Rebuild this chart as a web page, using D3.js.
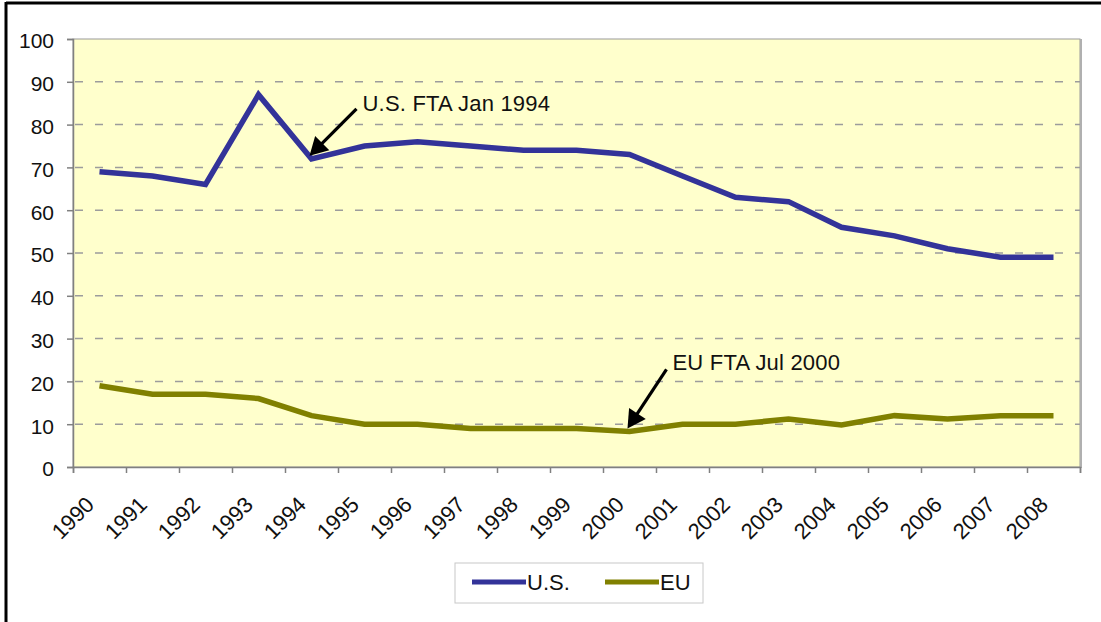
<!DOCTYPE html>
<html>
<head>
<meta charset="utf-8">
<script src="https://cdn.jsdelivr.net/npm/d3@7/dist/d3.min.js"></script>
<style>
  html, body { margin: 0; padding: 0; background: #fff; }
  svg { display: block; font-family: "Liberation Sans", Arial, sans-serif; }
</style>
</head>
<body>
<svg id="chart" width="1101" height="622"></svg>
<script>
const years = ["1990","1991","1992","1993","1994","1995","1996","1997","1998","1999",
               "2000","2001","2002","2003","2004","2005","2006","2007","2008"];
const usValues = [69,68,66,87,72,75,76,75,74,74,73,68,63,62,56,54,51,49,49];
const euValues = [19,17,17,16,12,10,10,9,9,9,8.3,10,10,11.2,9.8,12,11.2,12,12];
const yTicks = [0,10,20,30,40,50,60,70,80,90,100];
const seriesNames = ["U.S.", "EU"];
const annotations = [
  { text: "U.S. FTA Jan 1994", series: 0, year: "1994" },
  { text: "EU FTA Jul 2000", series: 1, year: "2000" }
];

const svg = d3.select("#chart");
const pLeft = 73, pRight = 1080, pTop = 39, pBottom = 467;
const colors = ["#333399", "#808000"];

// outer frame (partially visible)
svg.append("line").attr("x1", 6).attr("y1", 3).attr("x2", 1101).attr("y2", 3)
  .attr("stroke", "#000").attr("stroke-width", 3);
svg.append("line").attr("x1", 6).attr("y1", 2).attr("x2", 6).attr("y2", 622)
  .attr("stroke", "#000").attr("stroke-width", 3);

const x = d3.scaleBand().domain(years).range([pLeft, pRight]).padding(0);
const y = d3.scaleLinear().domain([0, 100]).range([pBottom, pTop]);
const cx = d => x(d) + x.bandwidth() / 2;

// plot background
svg.append("rect").attr("x", pLeft).attr("y", pTop)
  .attr("width", pRight - pLeft).attr("height", pBottom - pTop)
  .attr("fill", "#FFFFCC").attr("stroke", "#9a9a9a").attr("stroke-width", 1);
svg.append("line").attr("x1", pRight + 1).attr("x2", pRight + 1).attr("y1", pTop).attr("y2", pBottom + 1)
  .attr("stroke", "#b0b0b0").attr("stroke-width", 2);

// gridlines
svg.append("g").selectAll("line").data(yTicks.filter(t => t > 0 && t < 100)).join("line")
  .attr("x1", pLeft + 2).attr("x2", pRight).attr("y1", d => y(d)).attr("y2", d => y(d))
  .attr("stroke", "#9c9c9c").attr("stroke-width", 1.5).attr("stroke-dasharray", "8,12");

// y axis
const yAxis = svg.append("g").attr("transform", `translate(${pLeft},0)`)
  .call(d3.axisLeft(y).tickValues(yTicks).tickSize(6).tickPadding(13));
yAxis.select(".domain").attr("stroke", "#808080").attr("stroke-width", 1.5);
yAxis.selectAll(".tick line").attr("stroke", "#808080").attr("stroke-width", 1.5);
yAxis.selectAll(".tick text").attr("font-size", 21).attr("fill", "#111")
  .attr("font-family", "Liberation Sans, Arial, sans-serif").attr("dy", "0.42em");

// x axis (ticks at band boundaries)
const xb = d3.scaleLinear().domain([0, years.length]).range([pLeft, pRight]);
const xTickAxis = svg.append("g").attr("transform", `translate(0,${pBottom})`)
  .call(d3.axisBottom(xb).tickValues(d3.range(0, years.length + 1)).tickSize(6).tickFormat(""));
xTickAxis.select(".domain").attr("stroke", "#808080").attr("stroke-width", 1.5);
xTickAxis.selectAll(".tick line").attr("stroke", "#808080").attr("stroke-width", 1.5);

const xLabelAxis = svg.append("g").attr("transform", `translate(0,${pBottom})`)
  .call(d3.axisBottom(x).tickSize(0).tickPadding(0));
xLabelAxis.select(".domain").remove();
xLabelAxis.selectAll(".tick text")
  .attr("font-size", 22).attr("fill", "#111")
  .attr("font-family", "Liberation Sans, Arial, sans-serif")
  .attr("text-anchor", "end")
  .attr("dy", null).attr("y", null)
  .attr("transform", "translate(-4,39) rotate(-45)");

// lines
const line = d3.line().x((d, i) => cx(years[i])).y(d => y(d));
[usValues, euValues].forEach((vals, k) => {
  svg.append("path").datum(vals).attr("d", line)
    .attr("fill", "none").attr("stroke", colors[k])
    .attr("stroke-width", 5.5).attr("stroke-linejoin", "miter");
});

// arrows
const allVals = [usValues, euValues];
const annoOffsets = [ { dx: 47, dy: -47, tx: 53, ty: -45 }, { dx: 39, dy: -59, tx: 45, ty: -58 } ];
const headLen = 18, headHalf = 10;
annotations.forEach((a, k) => {
  const i = years.indexOf(a.year);
  const px = cx(a.year), py = y(allVals[a.series][i]);
  const o = annoOffsets[k];
  const tipX = px - 2, tipY = py - 3;
  const sx = tipX + o.dx, sy = tipY + o.dy;
  const len = Math.hypot(sx - tipX, sy - tipY);
  const ux = (tipX - sx) / len, uy = (tipY - sy) / len;
  const bx = tipX - ux * headLen, by = tipY - uy * headLen;
  svg.append("line").attr("x1", sx).attr("y1", sy)
    .attr("x2", bx + ux * 2).attr("y2", by + uy * 2)
    .attr("stroke", "#000").attr("stroke-width", 3.2);
  svg.append("path")
    .attr("d", `M${tipX},${tipY} L${bx - uy * headHalf},${by + ux * headHalf} L${bx + uy * headHalf},${by - ux * headHalf} Z`)
    .attr("fill", "#000");
  svg.append("text").attr("x", tipX + o.tx).attr("y", tipY + o.ty)
    .attr("font-size", 22).attr("letter-spacing", "0.2px").attr("fill", "#111")
    .text(a.text);
});

// legend
const lg = svg.append("g");
lg.append("rect").attr("x", 455).attr("y", 563).attr("width", 248).attr("height", 40)
  .attr("fill", "#fff").attr("stroke", "#c8c8c8").attr("stroke-width", 1);
const legendX = [472, 605];
seriesNames.forEach((name, k) => {
  lg.append("line").attr("x1", legendX[k]).attr("x2", legendX[k] + 54)
    .attr("y1", 582).attr("y2", 582).attr("stroke", colors[k]).attr("stroke-width", 5);
  lg.append("text").attr("x", legendX[k] + 55).attr("y", 590)
    .attr("font-size", 22).attr("fill", "#111").text(name);
});
</script>
</body>
</html>
